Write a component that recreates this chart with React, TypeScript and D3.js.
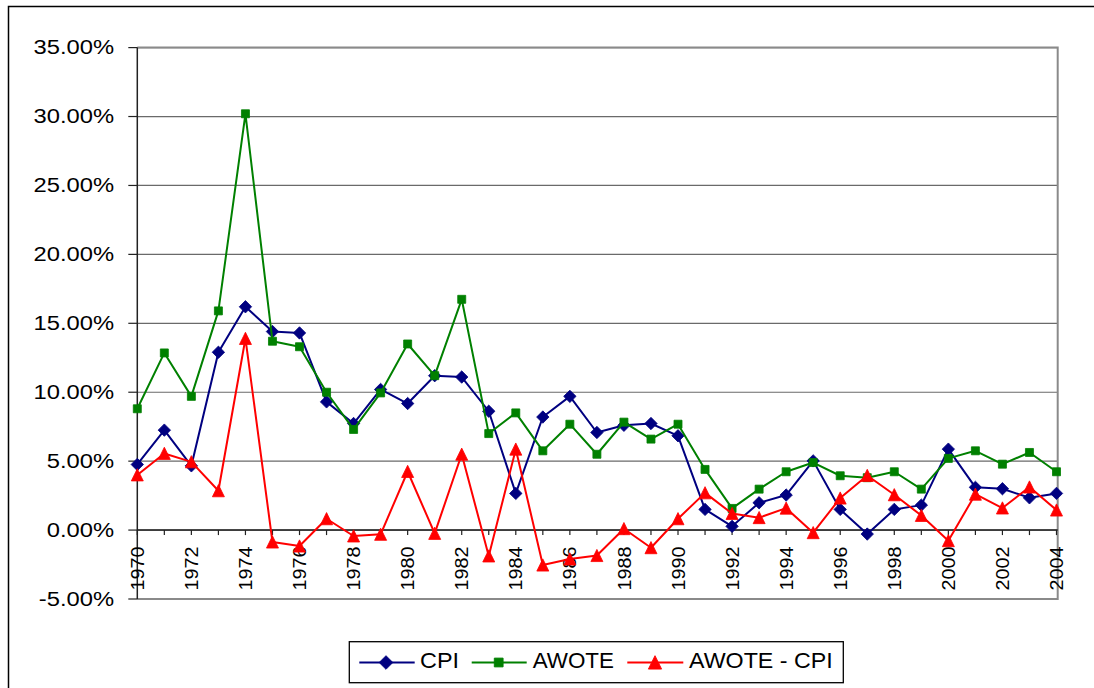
import React from "react";
import * as d3 from "d3";

const years = d3.range(1970, 2005);
const cpi = [4.76, 7.25, 4.66, 12.9, 16.2, 14.4, 14.3, 9.3, 7.73, 10.2, 9.18, 11.2, 11.1, 8.62, 2.66, 8.2, 9.7, 7.08, 7.6, 7.73, 6.84, 1.5, 0.27, 1.98, 2.54, 5.02, 1.5, -0.29, 1.5, 1.81, 5.87, 3.1, 3.0, 2.34, 2.66];
const awote = [8.8, 12.85, 9.7, 15.9, 30.2, 13.7, 13.3, 10.0, 7.3, 9.95, 13.5, 11.2, 16.74, 7.0, 8.5, 5.75, 7.68, 5.5, 7.83, 6.6, 7.68, 4.4, 1.57, 2.97, 4.23, 4.9, 3.94, 3.8, 4.23, 2.97, 5.2, 5.75, 4.78, 5.63, 4.23];
const diff = [4.0, 5.56, 4.95, 2.85, 13.9, -0.87, -1.16, 0.82, -0.43, -0.31, 4.25, -0.24, 5.5, -1.88, 5.87, -2.54, -2.1, -1.85, 0.1, -1.28, 0.82, 2.7, 1.2, 0.9, 1.59, -0.19, 2.32, 3.96, 2.56, 1.06, -0.77, 2.6, 1.6, 3.12, 1.45];
const yTicks = [-5, 0, 5, 10, 15, 20, 25, 30, 35];
const xLabelYears = years.filter((y) => (y - 1970) % 2 === 0);
const seriesNames = ["CPI", "AWOTE", "AWOTE - CPI"];

const FONT = "'Liberation Sans', Arial, sans-serif";
const L = 137.3, R = 1057.7, T = 47.6, B = 599;

const diamond = "M0,-6.2L6.2,0L0,6.2L-6.2,0Z";
const square = "M-4,-4H4V4H-4Z";
const triangle = "M-6,6L6,6L0,-6.2Z";

export default function App() {
  const x = d3.scaleLinear().domain([1970, 2004]).range([L, 1056.5]);
  const y = d3.scaleLinear().domain([-5, 35]).range([B, T]);
  const line = d3.line<number>().x((_, i) => x(years[i])).y((d) => y(d));
  const series = [
    { name: seriesNames[0], data: cpi, color: "#000080", marker: diamond },
    { name: seriesNames[1], data: awote, color: "#008000", marker: square },
    { name: seriesNames[2], data: diff, color: "#FF0000", marker: triangle },
  ];
  const legendItems = [
    { x1: 359.3, x2: 414.7, mx: 386, tx: 420, len: 39 },
    { x1: 471.7, x2: 526.7, mx: 498.7, tx: 532.7, len: 81.3 },
    { x1: 627.3, x2: 683.3, mx: 655, tx: 689, len: 143.7 },
  ];
  const legendY = 662.5;
  return (
    <svg width={1094} height={688} style={{ position: "absolute", left: 0, top: 0, background: "#fff" }} fontFamily={FONT}>
      <rect x={0} y={0} width={1094} height={688} fill="#fff" />
      <rect x={8.5} y={6.5} width={1200} height={800} fill="none" stroke="#000" strokeWidth={1.5} />
      {yTicks.map((t) => (
        <line key={t} x1={L} x2={R} y1={y(t)} y2={y(t)} stroke="#6a6a6a" strokeWidth={1.2} />
      ))}
      <path d={`M${L},${T}H${R}V${B}H${L}`} fill="none" stroke="#8a8a8a" strokeWidth={2} />
      <line x1={L} x2={L} y1={T} y2={B} stroke="#222" strokeWidth={1.5} />
      {yTicks.map((t) => (
        <g key={t}>
          <line x1={L - 9} x2={L} y1={y(t)} y2={y(t)} stroke="#222" strokeWidth={1.2} />
          <g transform={`translate(114,${y(t) + 6.8}) scale(1.17,1)`}>
            <text textAnchor="end" fontSize={20.3} fill="#000">{t.toFixed(2) + "%"}</text>
          </g>
        </g>
      ))}
      <line x1={L} x2={R} y1={y(0)} y2={y(0)} stroke="#222" strokeWidth={1.5} />
      {years.map((yr) => (
        <line key={yr} x1={x(yr)} x2={x(yr)} y1={y(0)} y2={y(0) + 5} stroke="#222" strokeWidth={1.2} />
      ))}
      {xLabelYears.map((yr) => (
        <g key={yr} transform={`translate(${x(yr) + 6.6},546.5) rotate(-90) scale(1.08,1)`}>
          <text textAnchor="end" fontSize={18.3} fill="#000">{String(yr)}</text>
        </g>
      ))}
      {series.map((s) => (
        <g key={s.name}>
          <path d={line(s.data) || ""} fill="none" stroke={s.color} strokeWidth={2} strokeLinejoin="round" />
          {s.data.map((d, i) => (
            <path key={i} d={s.marker} transform={`translate(${x(years[i])},${y(d)})`} fill={s.color} stroke={s.color} strokeWidth={0.8} />
          ))}
        </g>
      ))}
      <rect x={349.3} y={641.7} width={494} height={41} fill="#fff" stroke="#000" strokeWidth={1.3} />
      {series.map((s, i) => {
        const li = legendItems[i];
        return (
          <g key={s.name}>
            <line x1={li.x1} x2={li.x2} y1={legendY} y2={legendY} stroke={s.color} strokeWidth={2} />
            <path d={s.marker} transform={`translate(${li.mx},${legendY}) scale(1.1)`} fill={s.color} stroke={s.color} strokeWidth={0.8} />
            <text x={li.tx} y={667.8} fontSize={22.3} textLength={li.len} lengthAdjust="spacingAndGlyphs" fill="#000">{s.name}</text>
          </g>
        );
      })}
    </svg>
  );
}
